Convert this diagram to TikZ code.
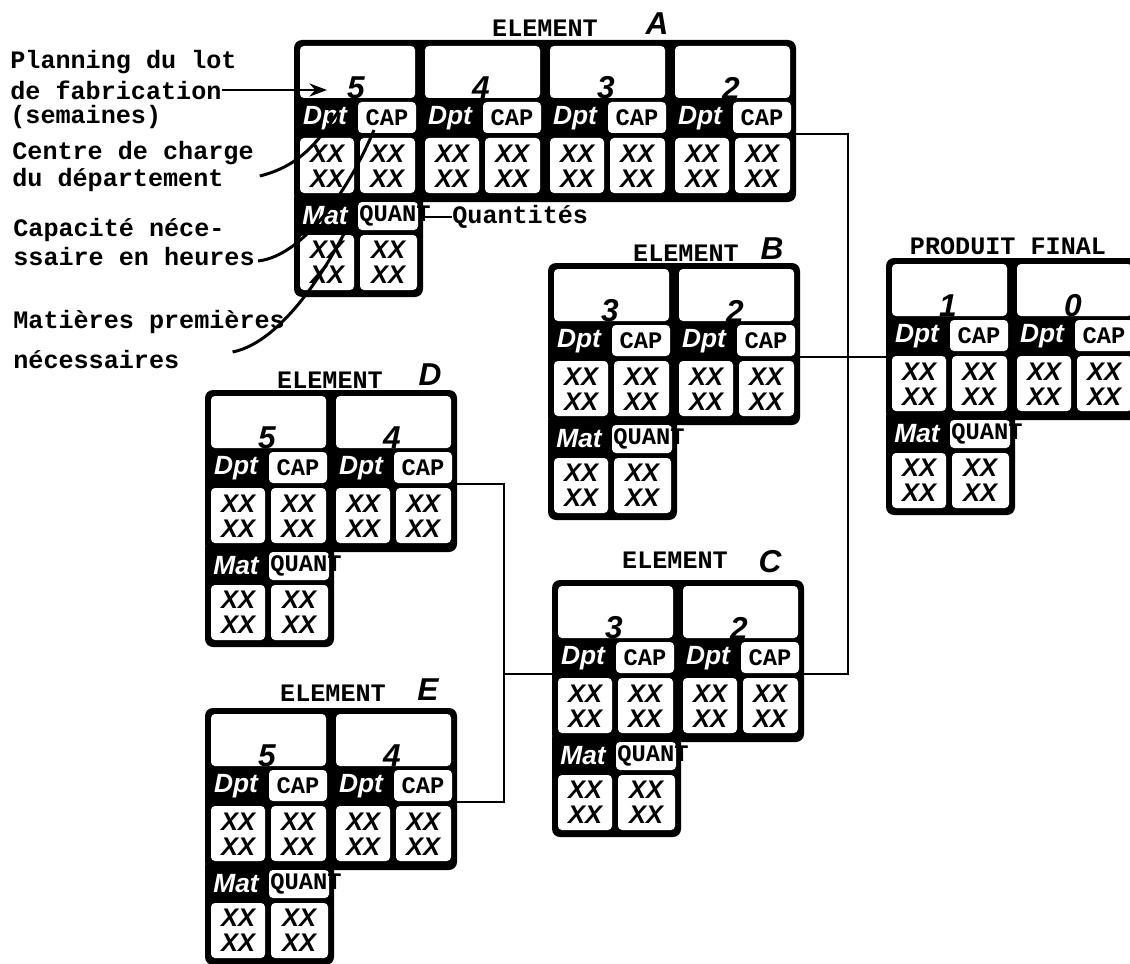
\documentclass[tikz,border=0pt]{standalone}
\usepackage{fontspec}
\setmonofont{Liberation Mono}
\newfontfamily\handfont{Liberation Sans}
\usetikzlibrary{arrows.meta, calc}

\begin{document}
\begin{tikzpicture}[x=0.2mm, y=-0.2mm,
    frame/.style={fill=black, rounded corners=1.6mm},
    cell/.style={fill=white, rounded corners=0.8mm},
    tw/.style={font=\ttfamily\bfseries\fontsize{14.3}{15}\selectfont, inner sep=0pt},
    captxt/.style={font=\ttfamily\bfseries\fontsize{13.5}{14}\selectfont, inner sep=0pt},
    dpt/.style={text=white, font=\handfont\bfseries\itshape\fontsize{15}{15}\selectfont, inner sep=0pt},
    xx/.style={font=\handfont\bfseries\itshape\fontsize{14.5}{14.5}\selectfont, align=center, inner sep=0pt},
    week/.style={font=\handfont\bfseries\itshape\fontsize{18}{18}\selectfont, inner sep=0pt},
    link/.style={line width=1.3pt},
    lead/.style={line width=1.7pt}]

    \useasboundingbox (0,0) rectangle (1130,964);
    \clip (0,0) rectangle (1130,964);

    % Element blocks: name / left / top / columns / weeks
    \foreach \nm/\X/\Y/\n/\wks in {A/294/40/4/{5,4,3,2}, B/548/263/2/{3,2}, C/552/580/2/{3,2},
                                  D/205/390/2/{5,4}, E/205/708/2/{5,4}, PF/886/258/2/{1,0}} {
        \fill[frame] (\X,\Y) rectangle ++(\n*125+2,162);
        \fill[frame] (\X,\Y+150) rectangle ++(129,107);
        \foreach \w [count=\c from 0] in \wks {
            \fill[cell] (\X+\c*125+6,\Y+6) rectangle (\X+\c*125+121,\Y+58);
            \fill[cell] (\X+\c*125+64,\Y+62) rectangle (\X+\c*125+122,\Y+93);
            \fill[cell] (\X+\c*125+6,\Y+98) rectangle (\X+\c*125+60,\Y+153);
            \fill[cell] (\X+\c*125+66,\Y+98) rectangle (\X+\c*125+121,\Y+153);
            \node[dpt] at (\X+\c*125+31,\Y+78) {Dpt};
            \node[captxt] at (\X+\c*125+93,\Y+78) {CAP};
            \node[xx] at (\X+\c*125+33,\Y+126) {XX\\XX};
            \node[xx] at (\X+\c*125+93,\Y+126) {XX\\XX};
            \node[week] at (\X+\c*125+62,\Y+48) {\w};
        }
        % materials part
        \node[dpt] at (\X+31,\Y+176) {Mat};
        \fill[cell] (\X+64,\Y+162) rectangle (\X+124,\Y+190);
        \node[captxt, anchor=west] at (\X+65,\Y+176) {QUANT};
        \fill[cell] (\X+6,\Y+195) rectangle (\X+60,\Y+250);
        \fill[cell] (\X+66,\Y+195) rectangle (\X+123,\Y+250);
        \node[xx] at (\X+33,\Y+222) {XX\\XX};
        \node[xx] at (\X+94,\Y+222) {XX\\XX};
        \coordinate (\nm-r) at (\X+\n*125+2,\Y+94);
        \coordinate (\nm-l) at (\X,\Y+94);
        \coordinate (\nm-q) at (\X+129,\Y+177);
    }

    % Titles
    \node[tw] (elA) at (545,28) {ELEMENT};
    \node[week] (letA) at (657,24) {A};
    \node[tw] (elB) at (686,253) {ELEMENT};
    \node[week] (letB) at (772,249) {B};
    \node[tw] (elC) at (675,560) {ELEMENT};
    \node[week] (letC) at (770,562) {C};
    \node[tw] (elD) at (330,380) {ELEMENT};
    \node[week] (letD) at (430,375) {D};
    \node[tw] (elE) at (333,693) {ELEMENT};
    \node[week] (letE) at (428,690) {E};
    \node[tw] (pf) at (1008,246) {PRODUIT FINAL};

    % Links between elements
    \coordinate (busR) at (848,357);
    \coordinate (busL) at (504,674);
    \draw[link] (A-r) -| (busR) |- (C-r);
    \draw[link] (B-r) -- (B-r -| PF-l);
    \draw[link] (D-r) -| (busL) |- (E-r);
    \draw[link] (busL) -- (C-l);

    % Legend on the left
    \node[tw, anchor=west] (plan1) at (10,62) {Planning du lot};
    \node[tw, anchor=west] (plan2) at (10,90) {de fabrication};
    \node[tw, anchor=west] (plan3) at (10,117) {(semaines)};
    \node[tw, anchor=west] (cent1) at (12,153) {Centre de charge};
    \node[tw, anchor=west] (cent2) at (12,180) {du département};
    \node[tw, anchor=west] (capa1) at (13,230) {Capacité néce-};
    \node[tw, anchor=west] (capa2) at (13,257) {ssaire en heures};
    \node[tw, anchor=west] (mat1) at (13,322) {Matières premières};
    \node[tw, anchor=west] (mat2) at (13,360) {nécessaires};
    \node[tw, anchor=west] (quant) at (452,217) {Quantités};

    \coordinate (plan-tip) at (327,90);
    \coordinate (cent-tip) at (338,112);
    \coordinate (cap-tip) at (374,130);
    \coordinate (mat-tip) at (348,226);
    \draw[lead, -{Stealth[length=3.5mm, width=2.6mm]}] (plan2.east) -- (plan-tip);
    \draw[lead] ($(cent2.east)+(36,-4)$) .. controls +(40,-10) and +(-20,30) .. (cent-tip);
    \draw[lead] ($(capa2.east)+(3,4)$) .. controls +(45,-5) and +(-25,60) .. (cap-tip);
    \draw[lead] ($(mat2.east)+(53,-8)$) .. controls +(50,-10) and +(-20,40) .. (mat-tip);
    \draw[link] (A-q) -- (quant.west);
\end{tikzpicture}
\end{document}
